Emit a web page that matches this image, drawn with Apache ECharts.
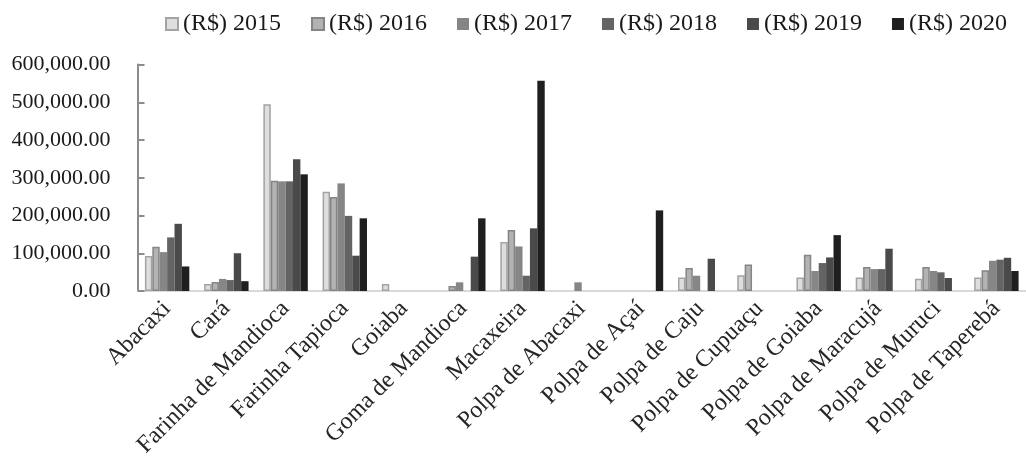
<!DOCTYPE html>
<html>
<head>
<meta charset="utf-8">
<style>
  html, body { margin: 0; padding: 0; background: #fff; }
  #chart { width: 1026px; height: 466px; }
</style>
<script src="https://cdn.jsdelivr.net/npm/echarts@6/dist/echarts.min.js"></script>
</head>
<body>
<div id="chart"></div>
<script>
// Products sold and yearly revenue (R$)
const categories = ['Abacaxi', 'Cará', 'Farinha de Mandioca', 'Farinha Tapioca', 'Goiaba',
  'Goma de Mandioca', 'Macaxeira', 'Polpa de Abacaxi', 'Polpa de Açaí', 'Polpa de Caju',
  'Polpa de Cupuaçu', 'Polpa de Goiaba', 'Polpa de Maracujá', 'Polpa de Muruci', 'Polpa de Taperebá'];

const seriesNames = ['(R$) 2015', '(R$) 2016', '(R$) 2017', '(R$) 2018', '(R$) 2019', '(R$) 2020'];

const v2015 = [93000, 18500, 495000, 263000, 18500, null, 130000, null, null, 36000, 42000, 36000, 36000, 32500, 36000];
const v2016 = [117000, 24000, 292000, 249000, null, 13000, 161500, null, null, 61000, 70000, 96000, 63500, 63500, 55000];
const v2017 = [103000, 32000, 290500, 285000, null, 23000, 118000, 23000, null, 40500, null, 53000, 58000, 53000, 80000];
const v2018 = [142000, 29000, 290500, 199000, null, null, 40500, null, null, null, null, 74000, 58000, 49500, 83000];
const v2019 = [178000, 100000, 349000, 93500, null, 91000, 166000, null, null, 85500, null, 89000, 112000, 34500, 88000];
const v2020 = [65000, 26000, 309000, 192500, null, 192500, 557000, null, 213500, null, null, 148000, null, null, 53000];

const yTicks = [0, 100000, 200000, 300000, 400000, 500000, 600000];

const values = [v2015, v2016, v2017, v2018, v2019, v2020];
const fills = ['#dedede', '#b3b3b3', '#868686', '#646464', '#4a4a4a', '#1f1f1f'];
const borders = ['#a3a3a3', '#858585', null, null, null, null];

const FONT = '"Liberation Serif", "Times New Roman", serif';

const chart = echarts.init(document.getElementById('chart'), null, { renderer: 'canvas' });

const series = seriesNames.map((name, i) => ({
  name: name,
  type: 'bar',
  data: values[i],
  barGap: '0%',
  barCategoryGap: '25%',
  itemStyle: borders[i]
    ? { color: fills[i], borderColor: borders[i], borderWidth: 1.5 }
    : { color: fills[i] },
  emphasis: { disabled: true }
}));

chart.setOption({
  animation: false,
  backgroundColor: '#ffffff',
  textStyle: { fontFamily: FONT },
  legend: {
    data: seriesNames,
    left: 160,
    top: 7,
    itemWidth: 12,
    itemHeight: 12,
    itemGap: 30,
    icon: 'rect',
    textStyle: { fontFamily: FONT, fontSize: 24, color: '#1a1a1a' }
  },
  grid: {
    left: 137.5,
    right: -10.5,
    top: 64.5,
    bottom: 175
  },
  xAxis: {
    type: 'category',
    data: categories,
    axisLine: { lineStyle: { color: '#d9d9d9', width: 2 } },
    axisTick: { show: false },
    axisLabel: {
      interval: 0,
      rotate: 45,
      margin: 14,
      fontFamily: FONT,
      fontSize: 24,
      color: '#262626'
    }
  },
  yAxis: {
    type: 'value',
    min: yTicks[0],
    max: yTicks[yTicks.length - 1],
    interval: yTicks[1] - yTicks[0],
    axisLine: { show: true, lineStyle: { color: '#8c8c8c', width: 2 } },
    axisTick: { show: true, inside: true, length: 7, lineStyle: { color: '#8c8c8c', width: 2 } },
    splitLine: { show: false },
    axisLabel: {
      margin: 27,
      fontFamily: FONT,
      fontSize: 22,
      color: '#1a1a1a',
      formatter: v => v.toLocaleString('en-US', { minimumFractionDigits: 2, maximumFractionDigits: 2 })
    }
  },
  series: series
});
</script>
</body>
</html>
